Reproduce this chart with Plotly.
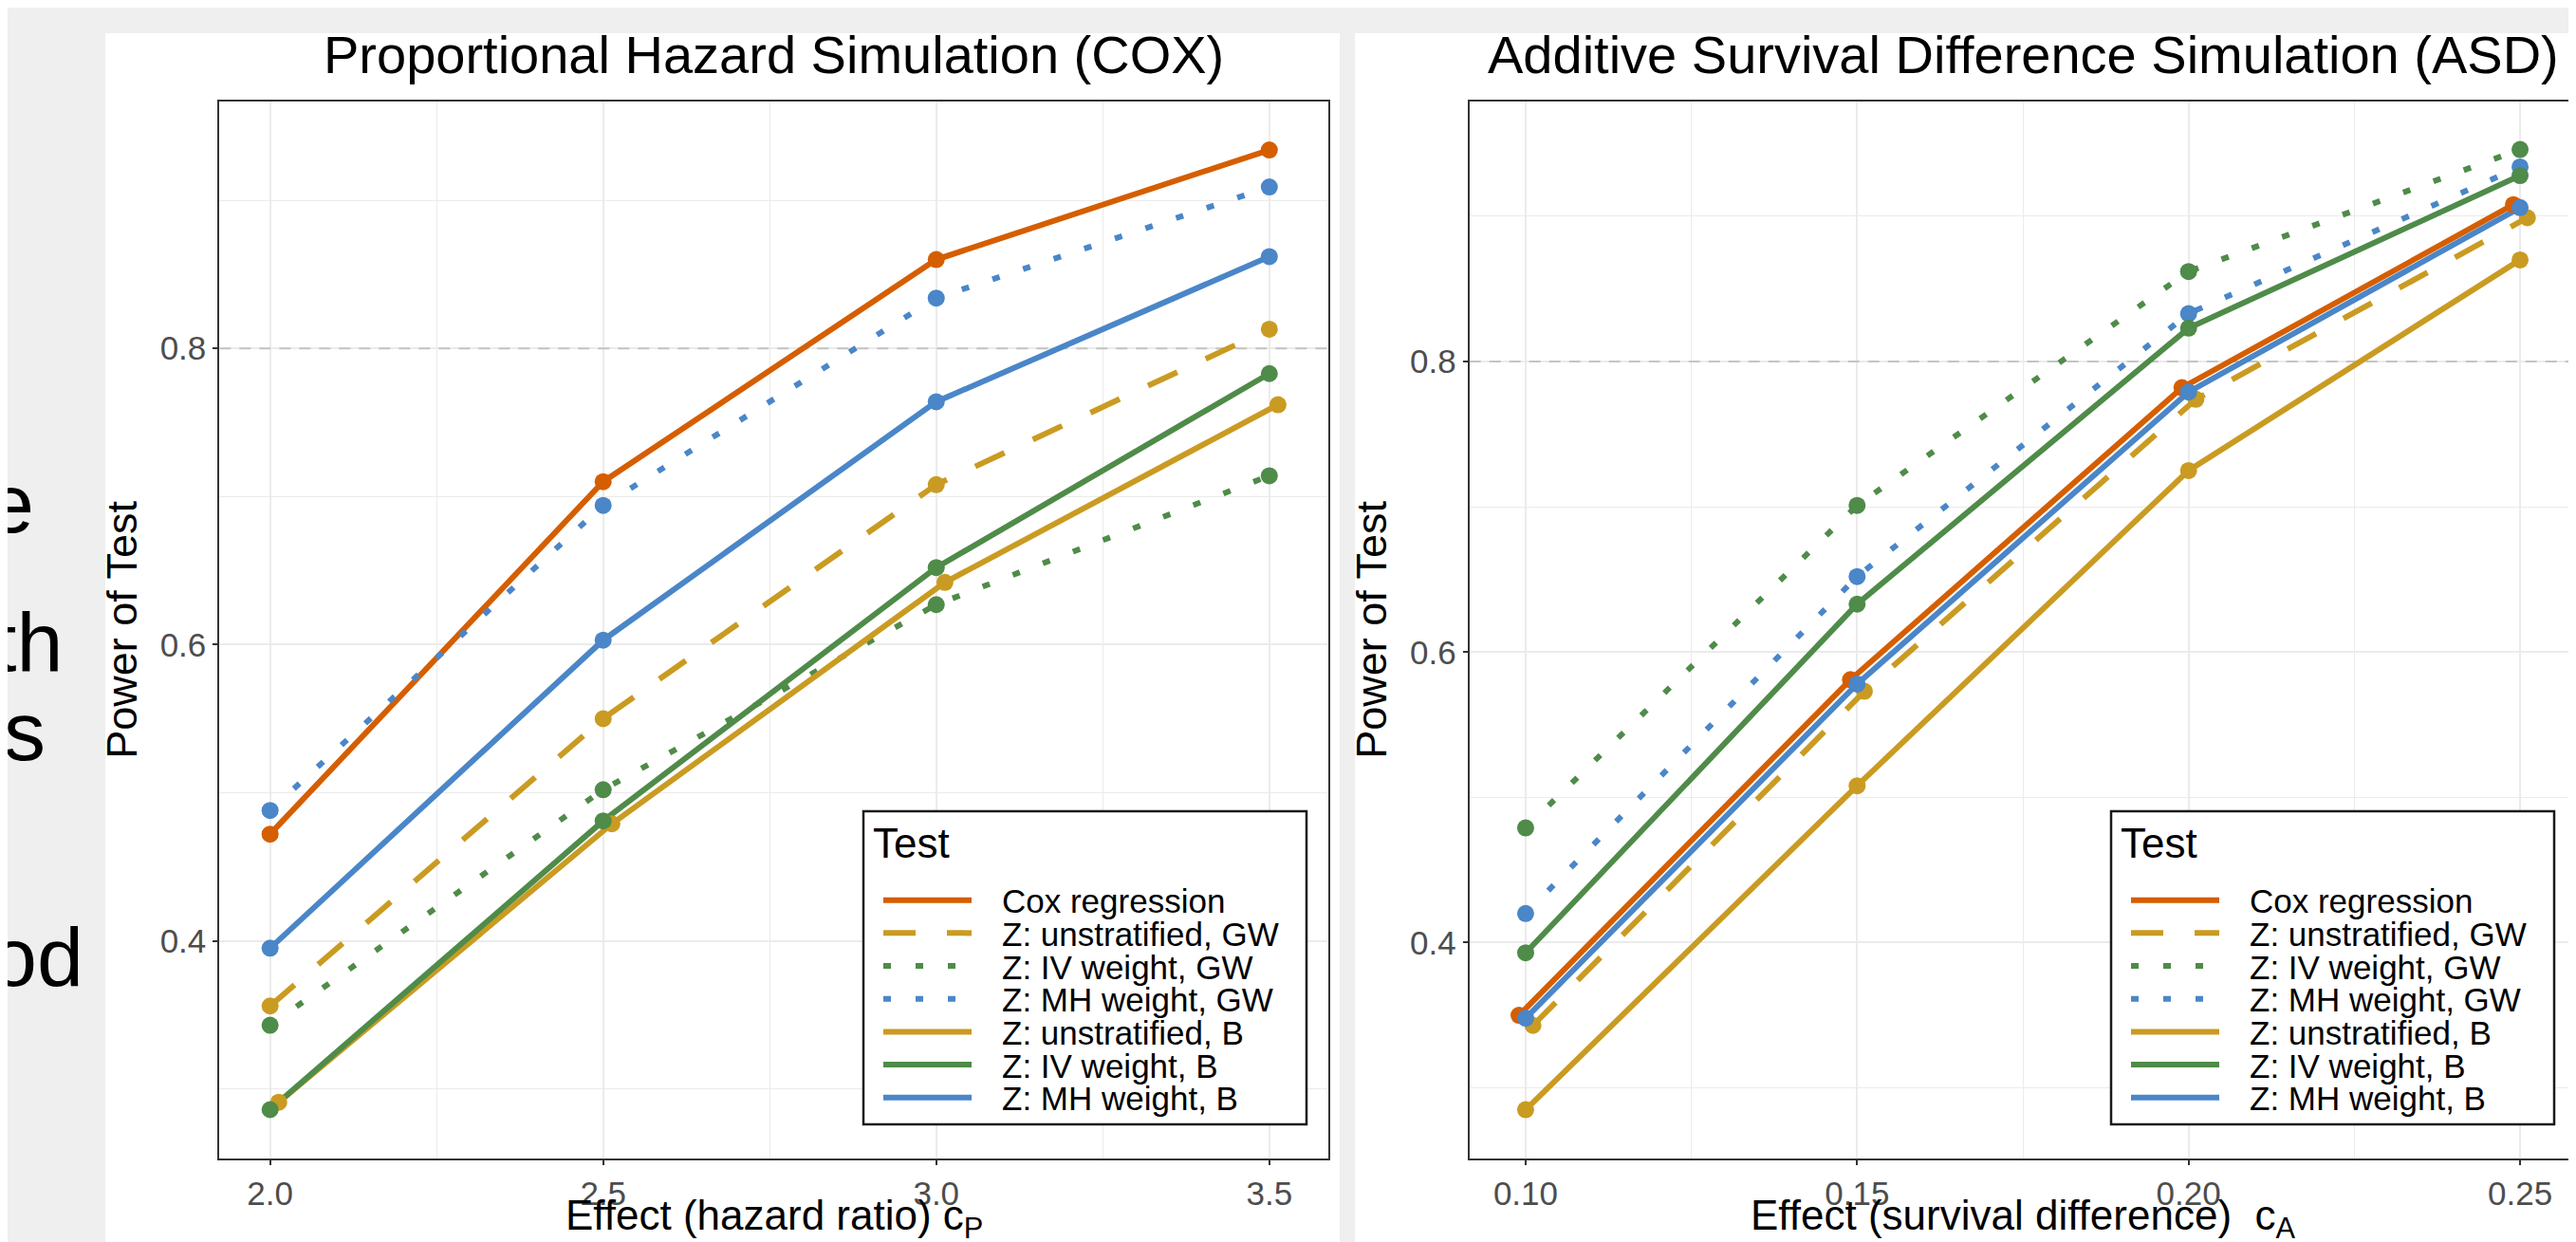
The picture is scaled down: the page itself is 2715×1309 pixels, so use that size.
import plotly.graph_objects as go

W, H = 2715, 1309
FONT = "Liberation Sans, Arial, Helvetica, sans-serif"

# ---------------- data ----------------
series_names = [
    "Cox regression",
    "Z: unstratified, GW",
    "Z: IV weight, GW",
    "Z: MH weight, GW",
    "Z: unstratified, B",
    "Z: IV weight, B",
    "Z: MH weight, B",
]

# Proportional hazard simulation (COX)
cox_effect = [2.0, 2.5, 3.0, 3.5]
cox_power = {
    "Cox regression":      [0.472, 0.710, 0.860, 0.934],
    "Z: unstratified, GW": [0.356, 0.550, 0.708, 0.813],
    "Z: IV weight, GW":    [0.343, 0.502, 0.627, 0.714],
    "Z: MH weight, GW":    [0.488, 0.694, 0.834, 0.909],
    "Z: unstratified, B":  [0.291, 0.479, 0.642, 0.762],
    "Z: IV weight, B":     [0.286, 0.481, 0.652, 0.783],
    "Z: MH weight, B":     [0.395, 0.603, 0.764, 0.862],
}

# Additive survival difference simulation (ASD)
asd_effect = [0.10, 0.15, 0.20, 0.25]
asd_power = {
    "Cox regression":      [0.350, 0.581, 0.782, 0.908],
    "Z: unstratified, GW": [0.343, 0.573, 0.774, 0.899],
    "Z: IV weight, GW":    [0.479, 0.701, 0.862, 0.946],
    "Z: MH weight, GW":    [0.420, 0.652, 0.833, 0.934],
    "Z: unstratified, B":  [0.285, 0.508, 0.725, 0.870],
    "Z: IV weight, B":     [0.393, 0.633, 0.823, 0.928],
    "Z: MH weight, B":     [0.348, 0.578, 0.779, 0.906],
}

cox_ticks = [2.0, 2.5, 3.0, 3.5]
asd_ticks = [0.10, 0.15, 0.20, 0.25]
power_ticks = [0.4, 0.6, 0.8]
target_power = 0.8

panel_titles = ["Proportional Hazard Simulation (COX)",
                "Additive Survival Difference Simulation (ASD)"]
x_titles = ["Effect (hazard ratio) c<sub>P</sub>",
            "Effect (survival difference)\u00a0 c<sub>A</sub>"]
y_title = "Power of Test"
legend_title = "Test"

# ---------------- styles ----------------
ORANGE, GOLD, GREEN, BLUE = "#D55E00", "#CA9B22", "#4F8B49", "#4A86C8"
DASHED, DOTTED = "34px,33px", "8px,26px"
style = {
    "Cox regression":      (ORANGE, "solid"),
    "Z: unstratified, GW": (GOLD, DASHED),
    "Z: IV weight, GW":    (GREEN, DOTTED),
    "Z: MH weight, GW":    (BLUE, DOTTED),
    "Z: unstratified, B":  (GOLD, "solid"),
    "Z: IV weight, B":     (GREEN, "solid"),
    "Z: MH weight, B":     (BLUE, "solid"),
}
# small horizontal dodges of overlapping points (as in the original)
nudge_cox = {"Z: unstratified, B": 0.013}
nudge_asd = {"Cox regression": -0.001, "Z: unstratified, GW": 0.0011}

LW, MS = 6.0, 18
cox_xrange = [1.924, 3.589]
asd_xrange = [0.09152, 0.25858]


def px_x(p):
    return p / W


def px_y(p):
    return 1 - p / H


fig = go.Figure()

panels = [
    ("x", "y", cox_effect, cox_power, nudge_cox, cox_xrange),
    ("x2", "y2", asd_effect, asd_power, nudge_asd, asd_xrange),
]
# target-power reference line (below the series)
for xa, ya, xs, ys, nud, xr in panels:
    fig.add_trace(go.Scatter(
        x=xr, y=[target_power, target_power], xaxis=xa, yaxis=ya,
        mode="lines", showlegend=False, hoverinfo="skip", cliponaxis=True,
        line=dict(color="#c4c4c4", width=2, dash="12px,9px")))
# lines first, then points (ggplot layer order)
for xa, ya, xs, ys, nud, xr in panels:
    for name in series_names:
        col, dash = style[name]
        d = nud.get(name, 0.0)
        fig.add_trace(go.Scatter(
            x=[v + d for v in xs], y=ys[name], xaxis=xa, yaxis=ya,
            mode="lines", name=name, showlegend=False,
            line=dict(color=col, width=LW, dash=dash), hoverinfo="skip"))
for xa, ya, xs, ys, nud, xr in panels:
    for name in series_names:
        col, dash = style[name]
        d = nud.get(name, 0.0)
        fig.add_trace(go.Scatter(
            x=[v + d for v in xs], y=ys[name], xaxis=xa, yaxis=ya,
            mode="markers", name=name, showlegend=False,
            marker=dict(color=col, size=MS, line=dict(width=0))))

axis_common = dict(
    showline=True, linecolor="#333333", linewidth=2, mirror=True,
    ticks="outside", ticklen=5, tickwidth=2, tickcolor="#333333",
    showgrid=True, gridcolor="#ebebeb", gridwidth=2.2, zeroline=False,
    tickfont=dict(size=35, color="#4d4d4d", family=FONT),
)
minor_grid = dict(showgrid=True, gridcolor="#ebebeb", gridwidth=1.3)

yd = [px_y(1212.7), px_y(99)]
xd1 = [px_x(223.3), px_x(1392.3)]
xd2 = [px_x(1540.7), px_x(2708)]
fig.update_layout(
    width=W, height=H,
    margin=dict(l=0, r=0, t=0, b=0),
    paper_bgcolor="#efefef", plot_bgcolor="white",
    showlegend=False,
    font=dict(family=FONT, color="black"),
    xaxis=dict(axis_common, domain=xd1, anchor="y",
               range=cox_xrange, tickvals=cox_ticks, tickformat=".1f",
               minor=dict(minor_grid, dtick=0.25, tick0=2.0)),
    yaxis=dict(axis_common, domain=yd, anchor="x",
               range=[0.2532, 0.9667], tickvals=power_ticks, tickformat=".1f",
               minor=dict(minor_grid, dtick=0.1, tick0=0.0),
               title=dict(text=y_title,
                          font=dict(size=45, color="black"), standoff=10)),
    xaxis2=dict(axis_common, domain=xd2, anchor="y2",
                range=asd_xrange, tickvals=asd_ticks, tickformat=".2f",
                minor=dict(minor_grid, dtick=0.025, tick0=0.1)),
    yaxis2=dict(axis_common, domain=yd, anchor="x2",
                range=[0.2516, 0.979], tickvals=power_ticks, tickformat=".1f",
                minor=dict(minor_grid, dtick=0.1, tick0=0.0),
                title=dict(text=y_title,
                           font=dict(size=45, color="black"), standoff=10)),
)

shapes = []
# white slide panels on the gray page
for x0, x1 in [(103, 1404), (1420, W)]:
    shapes.append(dict(type="rect", xref="paper", yref="paper",
                       x0=px_x(x0), x1=px_x(x1), y0=0, y1=px_y(27),
                       fillcolor="white", line=dict(width=0), layer="below"))

annotations = []
# panel titles and x-axis titles, centred over each panel
for dom, ttl, xt in [(xd1, panel_titles[0], x_titles[0]),
                     (xd2, panel_titles[1], x_titles[1])]:
    cx = (dom[0] + dom[1]) / 2
    annotations.append(dict(xref="paper", yref="paper", x=cx, y=px_y(49),
                            text=ttl, showarrow=False, xanchor="center",
                            yanchor="middle",
                            font=dict(size=56, color="black", family=FONT)))
    annotations.append(dict(xref="paper", yref="paper", x=cx, y=px_y(1276),
                            text=xt, showarrow=False, xanchor="center",
                            yanchor="middle",
                            font=dict(size=44, color="black", family=FONT)))

# ggplot-style legend boxes
for bx0 in [902, 2217]:
    bx1, by0, by1 = bx0 + 467, 847, 1177
    shapes.append(dict(type="rect", xref="paper", yref="paper",
                       x0=px_x(bx0), x1=px_x(bx1), y0=px_y(by1), y1=px_y(by0),
                       fillcolor="white", line=dict(color="#1a1a1a", width=2.5),
                       layer="above"))
    annotations.append(dict(xref="paper", yref="paper", x=px_x(bx0 + 8),
                            y=px_y(880), text=legend_title, showarrow=False,
                            xanchor="left", yanchor="middle",
                            font=dict(size=44, color="black", family=FONT)))
    for i, name in enumerate(series_names):
        col, dash = style[name]
        ry = 940.7 + i * 34.67
        shapes.append(dict(type="line", xref="paper", yref="paper",
                           x0=px_x(bx0 + 21), x1=px_x(bx0 + 114),
                           y0=px_y(ry), y1=px_y(ry),
                           line=dict(color=col, width=LW, dash=dash),
                           layer="above"))
        annotations.append(dict(xref="paper", yref="paper", x=px_x(bx0 + 144),
                                y=px_y(ry + 1), text=name, showarrow=False,
                                xanchor="left", yanchor="middle",
                                font=dict(size=35, color="black", family=FONT)))

# fragments of slide text cut off at the left edge
for txt, right, cy in [("e", 30, 522), ("th", 60, 668), ("s", 42, 762), ("od", 82, 1000)]:
    annotations.append(dict(xref="paper", yref="paper", x=px_x(right), y=px_y(cy),
                            text=txt, showarrow=False, xanchor="right",
                            yanchor="middle",
                            font=dict(size=88, color="black", family=FONT)))

fig.update_layout(shapes=shapes, annotations=annotations)
fig.write_html("out.html")
